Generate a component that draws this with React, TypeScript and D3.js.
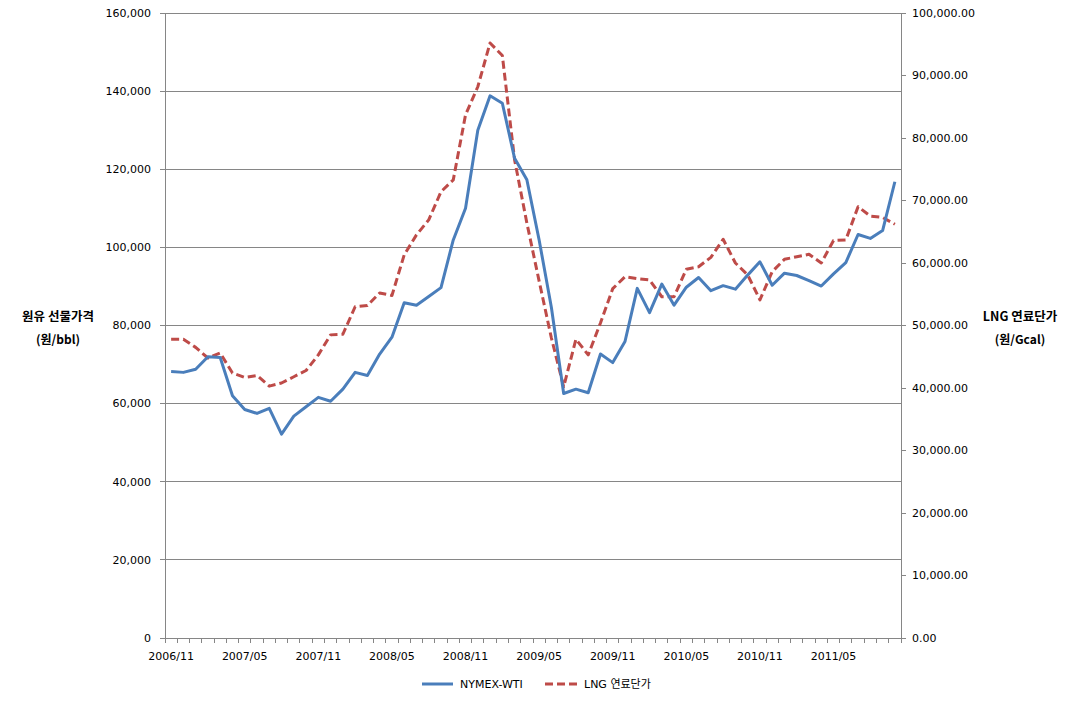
import React from "react";
import * as d3 from "d3";

// monthly series, 2006/11 .. 2011/10
const wti = [
  68200, 68000, 68800, 72000, 71800, 62000, 58500, 57500, 58800, 52200,
  56800, 59200, 61600, 60600, 63700, 68000, 67200, 72700, 77000, 85800,
  85200, 87400, 89700, 101900, 110000, 130000, 138800, 136900, 122800, 117300,
  101900, 84600, 62600, 63700, 62800, 72700, 70500, 75900, 89500, 83300,
  90600, 85200, 89800, 92300, 88900, 90200, 89300, 92900, 96300, 90300,
  93400, 92800, 91500, 90100, 93200, 96100, 103300, 102300, 104300, 116800,
];

const lng = [
  47800, 47800, 46500, 44800, 45600, 42400, 41700, 42000, 40300, 40800,
  41800, 42800, 45300, 48500, 48600, 53000, 53200, 55200, 54800, 61300,
  64500, 66900, 71400, 73300, 83700, 88200, 95200, 93200, 76500, 66400,
  57100, 48000, 40200, 47800, 45300, 50400, 55900, 57800, 57500, 57300,
  54600, 54600, 59000, 59400, 60900, 63800, 60000, 58100, 54100, 58600,
  60600, 61000, 61400, 60000, 63600, 63700, 69000, 67500, 67300, 66200,
];

const leftTicks = [0, 20000, 40000, 60000, 80000, 100000, 120000, 140000, 160000];
const rightTicks = [0, 10000, 20000, 30000, 40000, 50000, 60000, 70000, 80000, 90000, 100000];

const months = d3.timeMonths(new Date(2006, 10, 1), new Date(2011, 10, 1)).map(d3.timeFormat("%Y/%m"));

const FONT = "'DejaVu Sans', 'Noto Sans CJK KR', sans-serif";
const KFONT = "'Noto Sans CJK KR', 'DejaVu Sans', sans-serif";

export default function App() {
  const W = 1077, H = 701;
  const left = 165, right = 901, top = 13, bottom = 638;

  const x = d3.scaleBand<string>().domain(months).range([left, right]).padding(0);
  const yL = d3.scaleLinear().domain([0, 160000]).range([bottom, top]);
  const yR = d3.scaleLinear().domain([0, 100000]).range([bottom, top]);
  const cx = (i: number) => (x(months[i]) as number) + x.bandwidth() / 2;

  const lineL = d3.line<number>().x((_, i) => cx(i)).y((d) => yL(d));
  const lineR = d3.line<number>().x((_, i) => cx(i)).y((d) => yR(d));

  const fmtL = d3.format(",");
  const fmtR = d3.format(",.2f");
  const grid = "#868686";
  const blue = "#4A7EBB";
  const red = "#BE4B48";

  const bounds = months.map((m) => x(m) as number).concat([right]);

  return (
    <svg
      width={W}
      height={H}
      style={{ position: "fixed", left: 0, top: 0, background: "#fff" }}
    >
      {/* gridlines */}
      {leftTicks.slice(1).map((t) => (
        <line key={t} x1={left} x2={right} y1={yL(t)} y2={yL(t)} stroke={grid} strokeWidth={1} shapeRendering="crispEdges" />
      ))}

      {/* left axis */}
      <line x1={left} x2={left} y1={top} y2={bottom} stroke={grid} shapeRendering="crispEdges" />
      {leftTicks.map((t) => (
        <g key={t}>
          <line x1={left - 5} x2={left} y1={yL(t)} y2={yL(t)} stroke={grid} shapeRendering="crispEdges" />
          <text x={151} y={yL(t)} dy="0.35em" textAnchor="end" fontFamily={FONT} fontSize={11} fill="#000">
            {fmtL(t)}
          </text>
        </g>
      ))}

      {/* right axis */}
      <line x1={right} x2={right} y1={top} y2={bottom} stroke={grid} shapeRendering="crispEdges" />
      {rightTicks.map((t) => (
        <g key={t}>
          <line x1={right} x2={right + 5} y1={yR(t)} y2={yR(t)} stroke={grid} shapeRendering="crispEdges" />
          <text x={912} y={yR(t)} dy="0.35em" textAnchor="start" fontFamily={FONT} fontSize={11} fill="#000">
            {fmtR(t)}
          </text>
        </g>
      ))}

      {/* x axis */}
      <line x1={left} x2={right} y1={bottom} y2={bottom} stroke={grid} shapeRendering="crispEdges" />
      {bounds.map((b, i) => (
        <line key={i} x1={b} x2={b} y1={bottom} y2={bottom + 5} stroke={grid} shapeRendering="crispEdges" />
      ))}
      {months.map((m, i) =>
        i % 6 === 0 ? (
          <text key={m} x={cx(i)} y={660} textAnchor="middle" fontFamily={FONT} fontSize={11} fill="#000">
            {m}
          </text>
        ) : null,
      )}

      {/* series */}
      <path d={lineR(lng) || ""} fill="none" stroke={red} strokeWidth={3} strokeDasharray="8,4" strokeLinejoin="round" />
      <path d={lineL(wti) || ""} fill="none" stroke={blue} strokeWidth={3} strokeLinejoin="round" />

      {/* axis titles */}
      <text x={58} y={321} textAnchor="middle" fontFamily={KFONT} fontSize={12.5} fontWeight="bold" fill="#000">
        원유 선물가격
      </text>
      <text x={58} y={344} textAnchor="middle" fontFamily={KFONT} fontSize={12} fontWeight="bold" fill="#000">
        (원/bbl)
      </text>
      <text x={1020} y={321} textAnchor="middle" fontFamily={KFONT} fontSize={12.5} fontWeight="bold" fill="#000">
        LNG 연료단가
      </text>
      <text x={1020} y={344} textAnchor="middle" fontFamily={KFONT} fontSize={12} fontWeight="bold" fill="#000">
        (원/Gcal)
      </text>

      {/* legend */}
      <line x1={422} x2={453} y1={684} y2={684} stroke={blue} strokeWidth={3} />
      <text x={460} y={688} fontFamily={FONT} fontSize={11} fill="#000">NYMEX-WTI</text>
      <line x1={545} x2={577} y1={684} y2={684} stroke={red} strokeWidth={3} strokeDasharray="8,4" />
      <text x={584} y={688} fontFamily={FONT} fontSize={11} fill="#000">LNG 연료단가</text>
    </svg>
  );
}
